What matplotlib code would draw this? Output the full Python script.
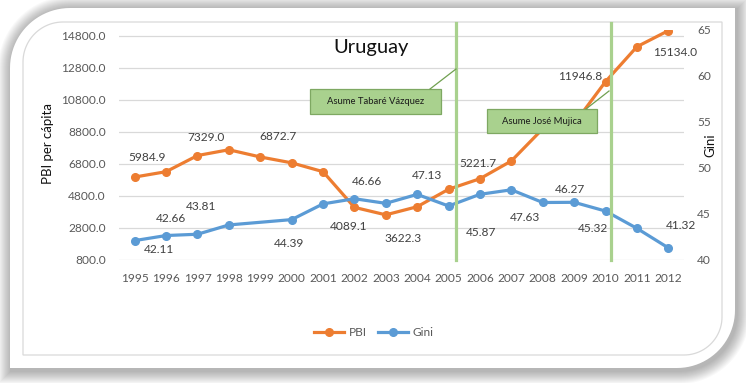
import numpy as np
import matplotlib
matplotlib.use("Agg")
import matplotlib.pyplot as plt
from matplotlib.path import Path
from matplotlib.patches import PathPatch, Rectangle
from matplotlib.lines import Line2D

plt.rcParams['font.family'] = ['Lato', 'DejaVu Sans']

# ---------------- data ----------------
years = ['1995', '1996', '1997', '1998', '1999', '2000', '2001', '2002', '2003',
         '2004', '2005', '2006', '2007', '2008', '2009', '2010', '2011', '2012']
pbi = [5984.9, 6320, 7329.0, 7690, 7240, 6872.7, 6320, 4089.1, 3622.3,
       4130, 5221.7, 5880, 6990, 9000, 9320, 11946.8, 14130, 15134.0]
gini = [42.11, 42.66, 42.80, 43.81, np.nan, 44.39, 46.10, 46.66, 46.16,
        47.13, 45.87, 47.14, 47.63, 46.25, 46.27, 45.32, 43.44, 41.32]
pbi_labeled = ['1995', '1997', '2000', '2002', '2003', '2005', '2010', '2012']
gini_labeled = ['1995', '1996', '1998', '2000', '2002', '2004', '2005', '2007',
                '2009', '2010', '2012']
left_ticks = [800, 2800, 4800, 6800, 8800, 10800, 12800, 14800]
right_ticks = [40, 45, 50, 55, 60, 65]
event_names = ['Asume Tabaré Vázquez', 'Asume José Mujica']
event_pos = [10.24, 15.16]   # position on the category axis (index units)
title = 'Uruguay'

# ---------------- layout / style ----------------
W, H = 746, 383
ORANGE = '#ed7d31'
BLUE = '#5b9bd5'
GREEN = '#a9d18e'
GRID = '#d9d9d9'
TICKC = '#595959'
LABC = '#404040'

pbi_off = {'1995': (12, -20), '1997': (9, -18.5), '2000': (-13.5, -26),
           '2002': (-6, 19), '2003': (17.6, 24), '2005': (29, -26),
           '2010': (-25.5, -5), '2012': (7, 22)}
gini_off = {'1995': (24, 9.4), '1996': (4.7, -17.5), '1998': (-28, -18),
            '2000': (-2.5, 23.4), '2002': (13, -17), '2004': (10, -19),
            '2005': (32, 27), '2007': (14, 28), '2009': (-4.4, -13),
            '2010': (-12.5, 17), '2012': (13, -22)}
box_rects = [(310, 89, 131, 25), (487, 109, 110, 24)]
box_links = [((430, 89), (456, 69)), ((586, 109), (609, 91))]

fig = plt.figure(figsize=(W / 100, H / 100), dpi=100)
fig.patch.set_facecolor('white')


def card_path(l, t, r, b, r1, r2, n=24):
    pts = []
    th = np.linspace(np.pi, np.pi / 2, n)
    cx, cy = l + r1, t + r1
    pts += list(zip(cx + r1 * np.cos(th), cy - r1 * np.sin(th)))
    pts.append((r, t))
    th = np.linspace(0, -np.pi / 2, n)
    cx, cy = r - r2, b - r2
    pts += list(zip(cx + r2 * np.cos(th), cy - r2 * np.sin(th)))
    pts.append((l, b))
    pts.append(pts[0])
    return Path(pts, closed=True)


# background card with shadow
bg = fig.add_axes([0, 0, 1, 1], zorder=-10)
bg.set_xlim(0, W)
bg.set_ylim(H, 0)
bg.axis('off')
L, T, R, B = 10, 8, 735, 368
for d in range(13, 0, -1):
    p = card_path(L - d + 1, T - d + 1, R + d + 2, B + d + 3, 60 + d, 58 + d)
    bg.add_patch(PathPatch(p, facecolor='black', edgecolor='none', alpha=0.022))
bg.add_patch(PathPatch(card_path(L, T, R, B, 60, 58), facecolor='white',
                       edgecolor='none'))
bg.add_patch(PathPatch(card_path(23, 22, 722, 355, 40, 38), facecolor='none',
                       edgecolor=GRID, lw=0.9))

# main axes
left, right, top, bottom = 119, 684, 30, 260
ax = fig.add_axes([left / W, 1 - bottom / H, (right - left) / W, (bottom - top) / H],
                  zorder=1)
ax.patch.set_alpha(0)
x = np.arange(len(years))
ax.set_xlim(-0.5, len(years) - 0.5)
ax.set_ylim(800, 800 + 230 / 16 * 1000)
ax.set_yticks(left_ticks)
ax.set_yticklabels([f'{v:.1f}' for v in left_ticks])
ax.set_xticks(x)
ax.set_xticklabels(years)
ax.tick_params(axis='both', length=0, labelsize=8.6, colors=TICKC)
ax.tick_params(axis='y', pad=9.5)
ax.tick_params(axis='x', pad=9.5)
ax.grid(axis='y', color=GRID, lw=0.9)
ax.set_axisbelow(True)
for s in ax.spines.values():
    s.set_visible(False)

ax.plot(x, pbi, color=ORANGE, lw=2.3, marker='o', ms=5.5, zorder=3)
for yr in pbi_labeled:
    i = years.index(yr)
    ax.annotate(f'{pbi[i]:.1f}', (x[i], pbi[i]), xytext=(pbi_off[yr][0], -pbi_off[yr][1]),
                textcoords='offset pixels', ha='center', va='center',
                fontsize=8.6, color=LABC, zorder=4)

ax2 = ax.twinx()
ax2.set_zorder(2)
ax2.set_ylim(40, 65)
ax2.set_yticks(right_ticks)
ax2.set_yticklabels([str(v) for v in right_ticks])
ax2.tick_params(axis='y', length=0, labelsize=8.6, colors=TICKC, pad=9.5)
for s in ax2.spines.values():
    s.set_visible(False)
g = np.array(gini, dtype=float)
ok = ~np.isnan(g)
ax2.plot(x[ok], g[ok], color=BLUE, lw=2.3, marker='o', ms=5.5, zorder=3)
for yr in gini_labeled:
    i = years.index(yr)
    ax2.annotate(f'{gini[i]:.2f}', (x[i], gini[i]), xytext=(gini_off[yr][0], -gini_off[yr][1]),
                 textcoords='offset pixels', ha='center', va='center',
                 fontsize=8.6, color=LABC, zorder=4)

for ev in event_pos:
    ax2.plot([ev, ev], [0, (bottom - 23) / (bottom - top)], color=GREEN, lw=2.3,
             transform=ax2.get_xaxis_transform(), clip_on=False, zorder=5)

# overlay for text boxes
ov = fig.add_axes([0, 0, 1, 1], zorder=5)
ov.set_xlim(0, W)
ov.set_ylim(H, 0)
ov.axis('off')
for name, (bx, by, bw, bh), (p0, p1) in zip(event_names, box_rects, box_links):
    ov.plot([p0[0], p1[0]], [p0[1], p1[1]], color='#70a050', lw=0.9)
    ov.add_patch(Rectangle((bx, by), bw, bh, facecolor=GREEN, edgecolor='#7ea862', lw=0.9))
    ov.text(bx + bw / 2, by + bh / 2 + 0.5, name, ha='center', va='center',
            fontsize=6.8, color='#1a1a1a')

# titles
fig.text(371 / W, 1 - 47 / H, title, ha='center', va='center', fontsize=14.5,
         color='#111111')
fig.text(48 / W, 1 - 144 / H, 'PBI per cápita', rotation=90, ha='center',
         va='center', fontsize=9.5, color='#111111')
fig.text(710 / W, 1 - 145 / H, 'Gini', rotation=90, ha='center', va='center',
         fontsize=9.5, color='#111111')

handles = [Line2D([], [], color=ORANGE, lw=2.3, marker='o', ms=5.5),
           Line2D([], [], color=BLUE, lw=2.3, marker='o', ms=5.5)]
fig.legend(handles, ['PBI', 'Gini'], loc='center', bbox_to_anchor=(374 / W, 1 - 333 / H),
           ncol=2, frameon=False, fontsize=8.6, labelcolor=TICKC, handlelength=2.5,
           handletextpad=0.35, columnspacing=1.0)

fig.savefig('out.png', dpi=100)
